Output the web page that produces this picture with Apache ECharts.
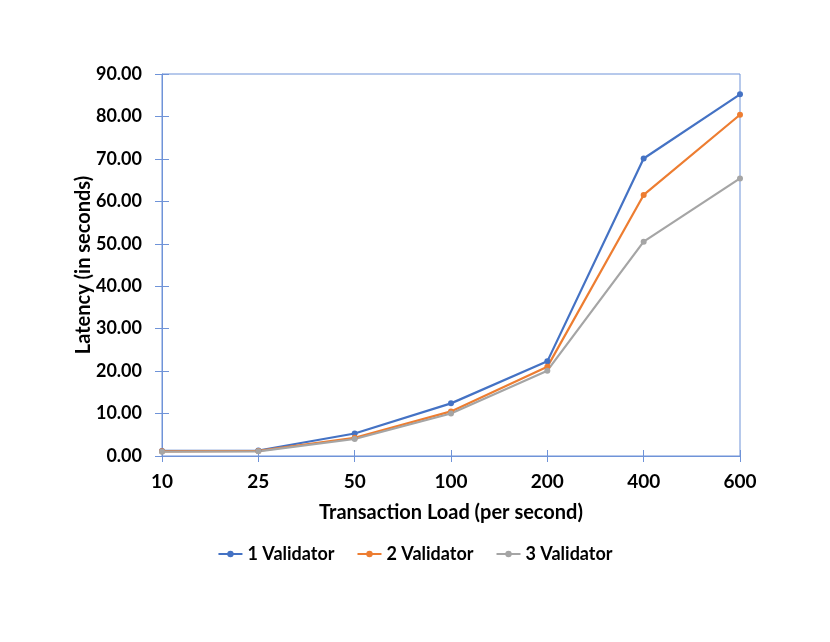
<!DOCTYPE html>
<html>
<head>
<meta charset="utf-8">
<script src="https://cdn.jsdelivr.net/npm/echarts@6/dist/echarts.min.js"></script>
<style>
  html, body { margin: 0; padding: 0; background: #fff; }
  #chart { width: 830px; height: 642px; }
</style>
</head>
<body>
<div id="chart"></div>
<script>
const loads = ['10', '25', '50', '100', '200', '400', '600'];
const validator1 = [1.2, 1.3, 5.3, 12.4, 22.3, 70.1, 85.2];
const validator2 = [1.1, 1.2, 4.3, 10.5, 21.0, 61.5, 80.4];
const validator3 = [1.0, 1.1, 4.0, 10.0, 20.1, 50.5, 65.4];

const seriesNames = ['1 Validator', '2 Validator', '3 Validator'];
const seriesColors = ['#4472C4', '#ED7D31', '#A5A5A5'];
const axisColor = '#6F93D8';
const font = 'Lato, "Open Sans", sans-serif';

const chart = echarts.init(document.getElementById('chart'));

function makeSeries(name, data, color) {
    return {
        name, type: 'line', data,
        xAxisIndex: 0, yAxisIndex: 0,
        symbol: 'circle', symbolSize: 6,
        lineStyle: { color, width: 2.2 },
        itemStyle: { color }
    };
}

chart.setOption({
    backgroundColor: '#fff',
    textStyle: { fontFamily: font },
    grid: {
        left: 162, right: 90, top: 74, bottom: 186,
        show: true, borderColor: axisColor, borderWidth: 1
    },
    legend: {
        data: seriesNames,
        bottom: 74, left: 'center',
        itemWidth: 24, itemHeight: 8, itemGap: 22,
        textStyle: { fontFamily: font, fontWeight: 'bold', fontSize: 18, color: '#000' }
    },
    xAxis: [
        {
            type: 'category', data: loads, boundaryGap: false,
            name: 'Transaction Load (per second)', nameLocation: 'middle', nameGap: 47,
            nameTextStyle: { fontFamily: font, fontWeight: 'bold', fontSize: 20, color: '#000' },
            axisLine: { lineStyle: { color: axisColor, width: 1 } },
            axisTick: { show: true, inside: false, length: 6, lineStyle: { color: axisColor } },
            axisLabel: { margin: 16, fontFamily: font, fontWeight: 'bold', fontSize: 19, color: '#000' },
            splitLine: { show: false }
        },
        {
            type: 'category', data: loads, boundaryGap: false, position: 'bottom',
            axisLine: { show: false },
            axisTick: { show: true, inside: true, length: 6, lineStyle: { color: axisColor } },
            axisLabel: { show: false },
            splitLine: { show: false }
        }
    ],
    yAxis: [
        {
            type: 'value', min: 0, max: 90, interval: 10,
            name: 'Latency (in seconds)', nameLocation: 'middle', nameGap: 68,
            nameMoveOverlap: false,
            nameTextStyle: { fontFamily: font, fontWeight: 'bold', fontSize: 20, color: '#000' },
            axisLine: { show: true, lineStyle: { color: axisColor, width: 1 } },
            axisTick: { show: true, inside: false, length: 7, lineStyle: { color: axisColor } },
            axisLabel: {
                margin: 20, fontFamily: font, fontWeight: 'bold', fontSize: 18, color: '#000',
                formatter: v => v.toFixed(2)
            },
            splitLine: { show: false }
        },
        {
            type: 'value', min: 0, max: 90, interval: 10, position: 'left',
            axisLine: { show: false },
            axisTick: { show: true, inside: true, length: 7, lineStyle: { color: axisColor } },
            axisLabel: { show: false },
            splitLine: { show: false }
        }
    ],
    series: [
        makeSeries(seriesNames[0], validator1, seriesColors[0]),
        makeSeries(seriesNames[1], validator2, seriesColors[1]),
        makeSeries(seriesNames[2], validator3, seriesColors[2])
    ]
});
</script>
</body>
</html>
